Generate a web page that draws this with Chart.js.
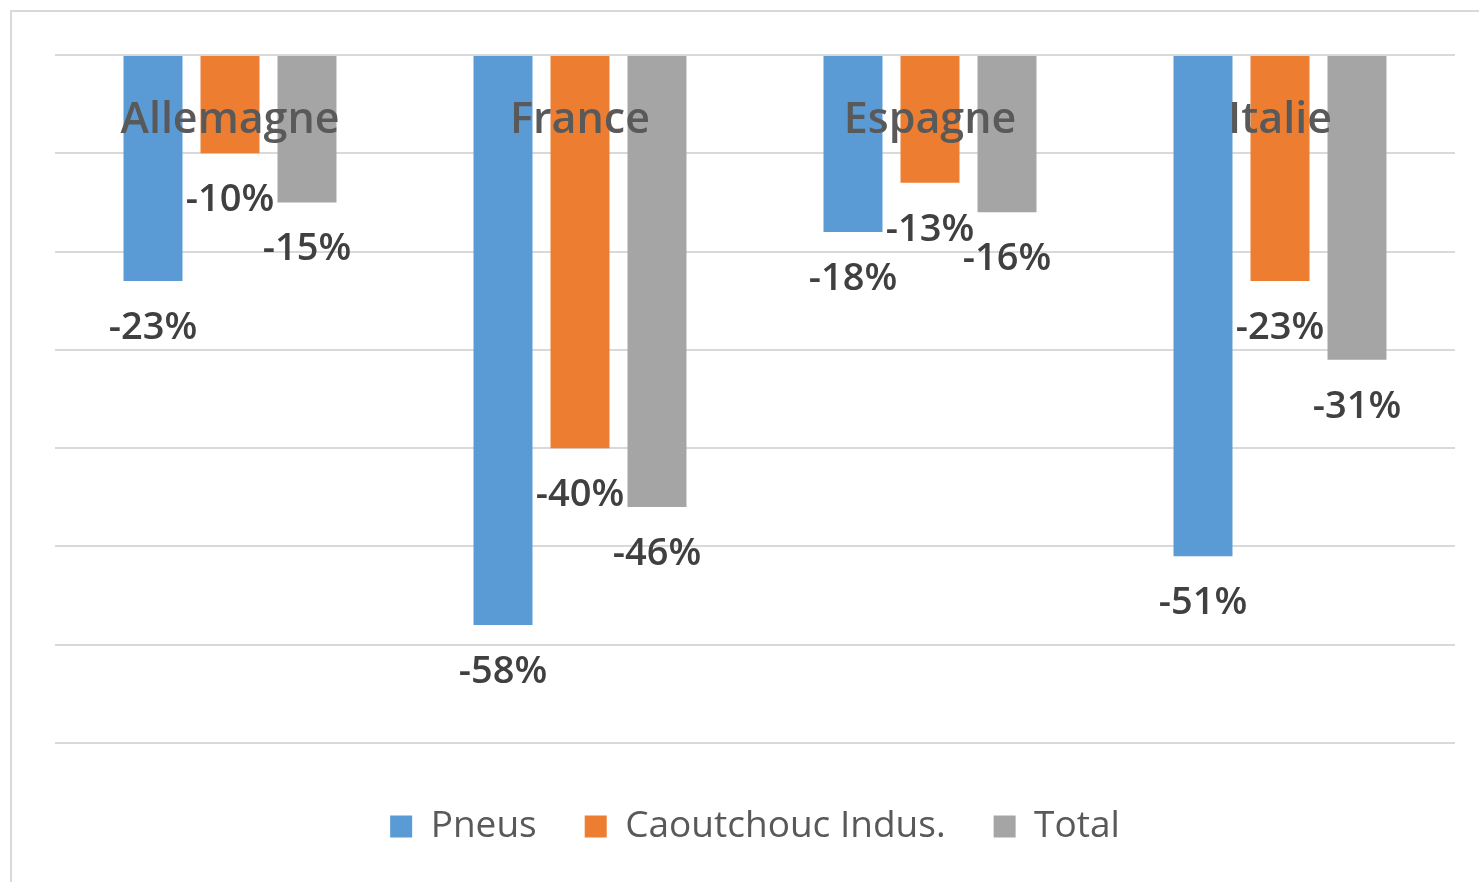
<!DOCTYPE html>
<html><head><meta charset="utf-8">
<script src="https://cdn.jsdelivr.net/npm/chart.js@4"></script>
<style>
html,body{margin:0;padding:0;background:#fff;overflow:hidden;width:1479px;height:882px;}
#frame{position:absolute;left:10px;top:10px;width:1500px;height:900px;border:2px solid #d9d9d9;box-sizing:border-box;}
#wrap{position:absolute;left:0;top:0;width:1479px;height:882px;}
</style></head><body>
<div id="frame"></div>
<div id="wrap"><canvas id="c" width="1479" height="882"></canvas></div>
<script>
const categories = ['Allemagne', 'France', 'Espagne', 'Italie'];
const pneus = [-23, -58, -18, -51];
const caoutchouc = [-10, -40, -13, -23];
const total = [-15, -46, -16, -31];
const seriesNames = ['Pneus', 'Caoutchouc Indus.', 'Total'];
const seriesColors = ['#5B9BD5', '#ED7D31', '#A5A5A5'];
const yMin = -70, yMax = 0, yStep = 10;

const labelsPlugin = {
  id: 'labels',
  afterDatasetsDraw(chart) {
    const ctx = chart.ctx;
    const xs = chart.scales.x;
    ctx.save();
    ctx.textAlign = 'center';
    ctx.textBaseline = 'alphabetic';
    ctx.font = '600 38px "Open Sans"';
    ctx.fillStyle = '#404040';
    chart.data.datasets.forEach((ds, i) => {
      const meta = chart.getDatasetMeta(i);
      meta.data.forEach((bar, j) => {
        ctx.fillText(ds.data[j] + '%', bar.x, bar.y + 58);
      });
    });
    ctx.font = '600 43px "Open Sans"';
    ctx.fillStyle = '#595959';
    categories.forEach((c, i) => {
      ctx.fillText(c, xs.getPixelForValue(i), chart.chartArea.top + 78);
    });
    ctx.restore();
  }
};

const data = {
  labels: categories,
  datasets: [
    { label: seriesNames[0], data: pneus, backgroundColor: seriesColors[0] },
    { label: seriesNames[1], data: caoutchouc, backgroundColor: seriesColors[1] },
    { label: seriesNames[2], data: total, backgroundColor: seriesColors[2] }
  ]
};

new Chart(document.getElementById('c'), {
  type: 'bar',
  data,
  plugins: [labelsPlugin],
  options: {
    responsive: false,
    animation: false,
    layout: { padding: { left: 55, right: 24, top: 55, bottom: 27 } },
    datasets: { bar: { categoryPercentage: 0.66, barPercentage: 0.766 } },
    scales: {
      x: {
        display: true,
        grid: { display: false },
        border: { display: false },
        ticks: { display: false },
        afterFit(scale) { scale.height = 17; }
      },
      y: {
        min: yMin, max: yMax,
        ticks: { display: false, stepSize: yStep },
        border: { display: false },
        grid: { color: '#d9d9d9', lineWidth: 2, drawTicks: false }
      }
    },
    plugins: {
      tooltip: { enabled: false },
      legend: {
        position: 'bottom',
        labels: {
          boxWidth: 22, boxHeight: 22, padding: 48,
          color: '#595959',
          font: { family: 'Open Sans', size: 37 }
        }
      }
    }
  }
});
</script>
</body></html>
